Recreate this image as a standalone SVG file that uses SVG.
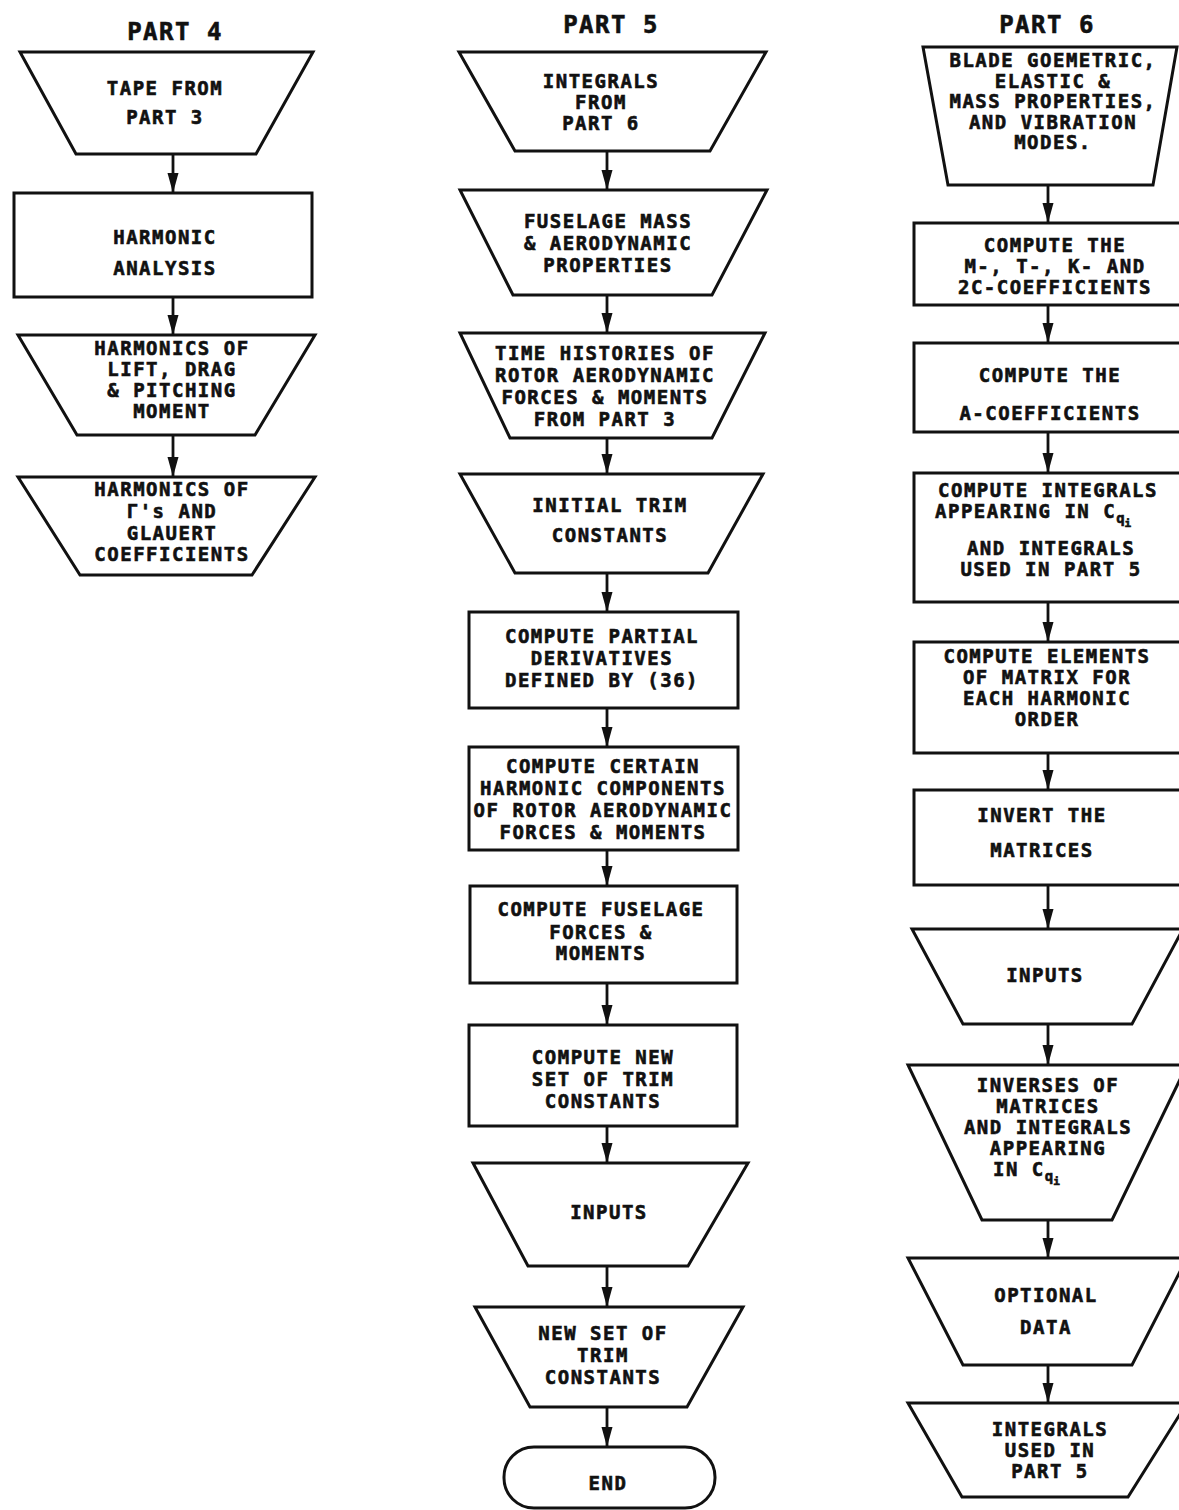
<svg xmlns="http://www.w3.org/2000/svg" width="1179" height="1510" viewBox="0 0 1179 1510">
<defs>
<style>
.s{fill:#fff;stroke:#111;stroke-width:3;stroke-linejoin:miter}
.c{stroke:#111;stroke-width:2.8;fill:none}
.t{font-family:"DejaVu Sans Mono","Liberation Mono",monospace;font-weight:bold;font-size:19px;letter-spacing:1.5px;fill:#111;stroke:#111;stroke-width:0.6px;text-anchor:middle}
.ttl{font-family:"DejaVu Sans Mono","Liberation Mono",monospace;font-weight:bold;font-size:24px;fill:#111;stroke:#111;stroke-width:0.6px;text-anchor:middle;letter-spacing:1.5px}
.st{text-anchor:start}
.sub{font-size:14px;letter-spacing:0}
.sub2{font-size:11px;letter-spacing:0}
</style>
<marker id="ah" markerUnits="userSpaceOnUse" markerWidth="22" markerHeight="14" refX="20" refY="7" orient="auto" viewBox="0 0 22 14">
<path d="M0,1.5 L20,7 L0,12.5 Z" fill="#111"/>
</marker>
</defs>
<rect width="1179" height="1510" fill="#fff"/>

<g id="titles">
<text class="ttl" x="175" y="40">PART 4</text>
<text class="ttl" x="611" y="33">PART 5</text>
<text class="ttl" x="1047" y="33">PART 6</text>
</g>

<g id="connectors">
<line class="c" x1="173" y1="154" x2="173" y2="193" marker-end="url(#ah)"/>
<line class="c" x1="173" y1="297" x2="173" y2="335" marker-end="url(#ah)"/>
<line class="c" x1="173" y1="435" x2="173" y2="477" marker-end="url(#ah)"/>

<line class="c" x1="607" y1="151" x2="607" y2="190" marker-end="url(#ah)"/>
<line class="c" x1="607" y1="295" x2="607" y2="333" marker-end="url(#ah)"/>
<line class="c" x1="607" y1="438" x2="607" y2="474" marker-end="url(#ah)"/>
<line class="c" x1="607" y1="573" x2="607" y2="612" marker-end="url(#ah)"/>
<line class="c" x1="607" y1="708" x2="607" y2="747" marker-end="url(#ah)"/>
<line class="c" x1="607" y1="850" x2="607" y2="886" marker-end="url(#ah)"/>
<line class="c" x1="607" y1="983" x2="607" y2="1025" marker-end="url(#ah)"/>
<line class="c" x1="607" y1="1126" x2="607" y2="1163" marker-end="url(#ah)"/>
<line class="c" x1="607" y1="1266" x2="607" y2="1307" marker-end="url(#ah)"/>
<line class="c" x1="607" y1="1407" x2="607" y2="1447" marker-end="url(#ah)"/>

<line class="c" x1="1048" y1="185" x2="1048" y2="223" marker-end="url(#ah)"/>
<line class="c" x1="1048" y1="305" x2="1048" y2="343" marker-end="url(#ah)"/>
<line class="c" x1="1048" y1="432" x2="1048" y2="473" marker-end="url(#ah)"/>
<line class="c" x1="1048" y1="602" x2="1048" y2="642" marker-end="url(#ah)"/>
<line class="c" x1="1048" y1="753" x2="1048" y2="790" marker-end="url(#ah)"/>
<line class="c" x1="1048" y1="885" x2="1048" y2="929" marker-end="url(#ah)"/>
<line class="c" x1="1048" y1="1024" x2="1048" y2="1065" marker-end="url(#ah)"/>
<line class="c" x1="1048" y1="1220" x2="1048" y2="1258" marker-end="url(#ah)"/>
<line class="c" x1="1048" y1="1365" x2="1048" y2="1403" marker-end="url(#ah)"/>
</g>

<!-- PART 4 -->
<g id="p4-tape">
<polygon class="s" points="20,52 313,52 256,154 76,154"/>
<text class="t" x="165" y="95">TAPE FROM</text>
<text class="t" x="165" y="124">PART 3</text>
</g>
<g id="p4-harmonic-analysis">
<rect class="s" x="14" y="193" width="298" height="104"/>
<text class="t" x="165" y="244">HARMONIC</text>
<text class="t" x="165" y="275">ANALYSIS</text>
</g>
<g id="p4-harmonics-lift">
<polygon class="s" points="18,335 315,335 255,435 77,435"/>
<text class="t" x="172" y="355">HARMONICS OF</text>
<text class="t" x="172" y="376">LIFT, DRAG</text>
<text class="t" x="172" y="397">&amp; PITCHING</text>
<text class="t" x="172" y="418">MOMENT</text>
</g>
<g id="p4-harmonics-gamma">
<polygon class="s" points="18,477 315,477 252,575 80,575"/>
<text class="t" x="172" y="496">HARMONICS OF</text>
<text class="t" x="172" y="518">Γ's AND</text>
<text class="t" x="172" y="540">GLAUERT</text>
<text class="t" x="172" y="561">COEFFICIENTS</text>
</g>

<!-- PART 5 -->
<g id="p5-integrals">
<polygon class="s" points="459,52 766,52 710,151 515,151"/>
<text class="t" x="601" y="88">INTEGRALS</text>
<text class="t" x="601" y="109">FROM</text>
<text class="t" x="601" y="130">PART 6</text>
</g>
<g id="p5-fuselage-props">
<polygon class="s" points="460,190 767,190 712,295 513,295"/>
<text class="t" x="608" y="228">FUSELAGE MASS</text>
<text class="t" x="608" y="250">&amp; AERODYNAMIC</text>
<text class="t" x="608" y="272">PROPERTIES</text>
</g>
<g id="p5-time-histories">
<polygon class="s" points="460,333 765,333 712,438 510,438"/>
<text class="t" x="605" y="360">TIME HISTORIES OF</text>
<text class="t" x="605" y="382">ROTOR AERODYNAMIC</text>
<text class="t" x="605" y="404">FORCES &amp; MOMENTS</text>
<text class="t" x="605" y="426">FROM PART 3</text>
</g>
<g id="p5-initial-trim">
<polygon class="s" points="460,474 763,474 708,573 515,573"/>
<text class="t" x="610" y="512">INITIAL TRIM</text>
<text class="t" x="610" y="542">CONSTANTS</text>
</g>
<g id="p5-partial-derivs">
<rect class="s" x="469" y="612" width="269" height="96"/>
<text class="t" x="602" y="643">COMPUTE PARTIAL</text>
<text class="t" x="602" y="665">DERIVATIVES</text>
<text class="t" x="602" y="687">DEFINED BY (36)</text>
</g>
<g id="p5-harmonic-components">
<rect class="s" x="469" y="747" width="269" height="103"/>
<text class="t" x="603" y="773">COMPUTE CERTAIN</text>
<text class="t" x="603" y="795">HARMONIC COMPONENTS</text>
<text class="t" x="603" y="817">OF ROTOR AERODYNAMIC</text>
<text class="t" x="603" y="839">FORCES &amp; MOMENTS</text>
</g>
<g id="p5-fuselage-forces">
<rect class="s" x="470" y="886" width="267" height="97"/>
<text class="t" x="601" y="916">COMPUTE FUSELAGE</text>
<text class="t" x="601" y="939">FORCES &amp;</text>
<text class="t" x="601" y="960">MOMENTS</text>
</g>
<g id="p5-new-trim">
<rect class="s" x="469" y="1025" width="268" height="101"/>
<text class="t" x="603" y="1064">COMPUTE NEW</text>
<text class="t" x="603" y="1086">SET OF TRIM</text>
<text class="t" x="603" y="1108">CONSTANTS</text>
</g>
<g id="p5-inputs">
<polygon class="s" points="473,1163 748,1163 688,1266 528,1266"/>
<text class="t" x="609" y="1219">INPUTS</text>
</g>
<g id="p5-new-set">
<polygon class="s" points="475,1307 743,1307 687,1407 530,1407"/>
<text class="t" x="603" y="1340">NEW SET OF</text>
<text class="t" x="603" y="1362">TRIM</text>
<text class="t" x="603" y="1384">CONSTANTS</text>
</g>
<g id="p5-end">
<rect class="s" x="504" y="1447" width="211" height="61" rx="30" ry="30"/>
<text class="t" x="608" y="1490">END</text>
</g>

<!-- PART 6 -->
<g id="p6-blade">
<polygon class="s" points="923,47 1177,47 1153,185 948,185"/>
<text class="t" x="1053" y="67">BLADE GOEMETRIC,</text>
<text class="t" x="1053" y="88">ELASTIC &amp;</text>
<text class="t" x="1053" y="108">MASS PROPERTIES,</text>
<text class="t" x="1053" y="129">AND VIBRATION</text>
<text class="t" x="1053" y="149">MODES.</text>
</g>
<g id="p6-mtk">
<rect class="s" x="914" y="223" width="268" height="82"/>
<text class="t" x="1055" y="252">COMPUTE THE</text>
<text class="t" x="1055" y="273">M-, T-, K- AND</text>
<text class="t" x="1055" y="294">2C-COEFFICIENTS</text>
</g>
<g id="p6-a-coeff">
<rect class="s" x="914" y="343" width="268" height="89"/>
<text class="t" x="1050" y="382">COMPUTE THE</text>
<text class="t" x="1050" y="420">A-COEFFICIENTS</text>
</g>
<g id="p6-integrals">
<rect class="s" x="914" y="473" width="268" height="129"/>
<text class="t" x="1048" y="497">COMPUTE INTEGRALS</text>
<text class="t st" x="935" y="518">APPEARING IN C<tspan class="sub" dy="5">q</tspan><tspan class="sub2" dy="4">i</tspan></text>
<text class="t" x="1051" y="555">AND INTEGRALS</text>
<text class="t" x="1051" y="576">USED IN PART 5</text>
</g>
<g id="p6-elements">
<rect class="s" x="914" y="642" width="268" height="111"/>
<text class="t" x="1047" y="663">COMPUTE ELEMENTS</text>
<text class="t" x="1047" y="684">OF MATRIX FOR</text>
<text class="t" x="1047" y="705">EACH HARMONIC</text>
<text class="t" x="1047" y="726">ORDER</text>
</g>
<g id="p6-invert">
<rect class="s" x="914" y="790" width="268" height="95"/>
<text class="t" x="1042" y="822">INVERT THE</text>
<text class="t" x="1042" y="857">MATRICES</text>
</g>
<g id="p6-inputs">
<polygon class="s" points="912,929 1183,929 1132,1024 963,1024"/>
<text class="t" x="1045" y="982">INPUTS</text>
</g>
<g id="p6-inverses">
<polygon class="s" points="908,1065 1187,1065 1112,1220 982,1220"/>
<text class="t" x="1048" y="1092">INVERSES OF</text>
<text class="t" x="1048" y="1113">MATRICES</text>
<text class="t" x="1048" y="1134">AND INTEGRALS</text>
<text class="t" x="1048" y="1155">APPEARING</text>
<text class="t st" x="993" y="1176">IN C<tspan class="sub" dy="5">q</tspan><tspan class="sub2" dy="4">i</tspan></text>
</g>
<g id="p6-optional">
<polygon class="s" points="908,1258 1187,1258 1132,1365 963,1365"/>
<text class="t" x="1046" y="1302">OPTIONAL</text>
<text class="t" x="1046" y="1334">DATA</text>
</g>
<g id="p6-integrals-used">
<polygon class="s" points="908,1403 1187,1403 1128,1497 962,1497"/>
<text class="t" x="1050" y="1436">INTEGRALS</text>
<text class="t" x="1050" y="1457">USED IN</text>
<text class="t" x="1050" y="1478">PART 5</text>
</g>
</svg>
